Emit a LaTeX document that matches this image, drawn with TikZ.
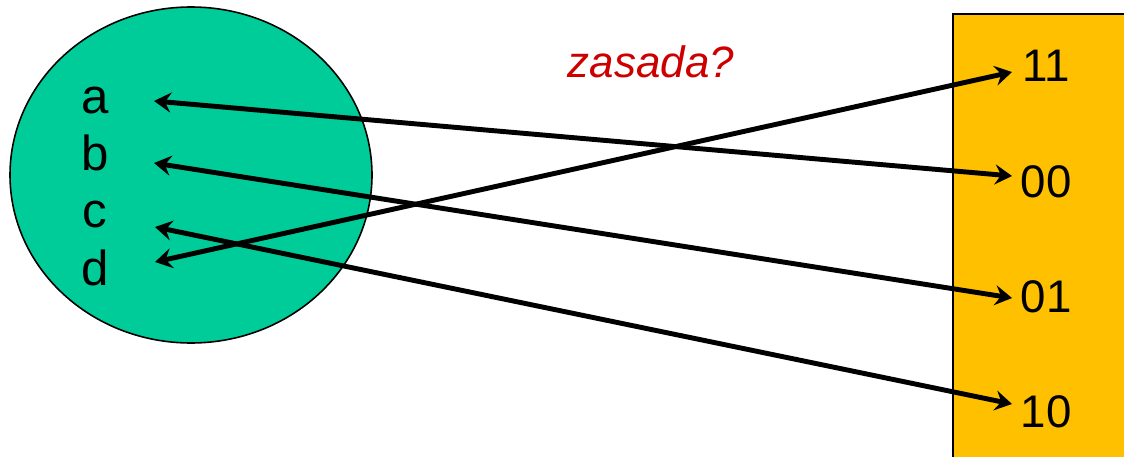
\documentclass[tikz,border=0pt]{standalone}
\usepackage{fontspec}
\setmainfont{Liberation Sans}
\usetikzlibrary{arrows.meta}
\definecolor{setgreen}{RGB}{0,204,153}
\definecolor{codeorange}{RGB}{255,192,0}
\definecolor{askred}{RGB}{204,0,0}

\tikzset{
  elem/.style={font=\fontsize{28}{30}\selectfont, anchor=base, inner sep=0pt},
  code/.style={font=\fontsize{26}{28}\selectfont, anchor=base, inner sep=0pt},
  link/.style={line width=2.8pt,
    {Stealth[length=0.34cm,width=0.4cm,inset=0.12cm]}-{Stealth[length=0.34cm,width=0.4cm,inset=0.12cm]}}
}

\begin{document}
\begin{tikzpicture}[x=0.02cm, y=-0.02cm]
\useasboundingbox (0,0) rectangle (1124,456);

% Set of letters
\fill[setgreen, draw=black, line width=0.9pt] (191,175) ellipse [x radius=181, y radius=168];

% Code column
\fill[codeorange, draw=black, line width=0.9pt] (953,14) rectangle (1140,470);

% Elements
\node[elem] (a) at (95,113) {a};
\node[elem] (b) at (95,170) {b};
\node[elem] (c) at (95,227) {c};
\node[elem] (d) at (95,285) {d};

% Codes
\node[code] (n11) at (1046,82) {11};
\node[code] (n00) at (1046,197) {00};
\node[code] (n01) at (1046,312) {01};
\node[code] (n10) at (1046,427) {10};

% Question
\node[text=askred, font=\fontsize{25}{27}\selectfont\itshape, anchor=base] (ask) at (651,77) {zasada?};

% Mapping
\draw[link] ([xshift=1.18cm,yshift=0.24cm]a.base) -- ([xshift=-0.68cm,yshift=0.42cm]n00.base);
\draw[link] ([xshift=1.18cm,yshift=0.14cm]b.base) -- ([xshift=-0.68cm,yshift=0.28cm]n01.base);
\draw[link] ([xshift=1.2cm,yshift=0cm]c.base) -- ([xshift=-0.68cm,yshift=0.46cm]n10.base);
\draw[link] ([xshift=1.2cm,yshift=0.46cm]d.base) -- ([xshift=-0.68cm,yshift=0.2cm]n11.base);

\end{tikzpicture}
\end{document}
